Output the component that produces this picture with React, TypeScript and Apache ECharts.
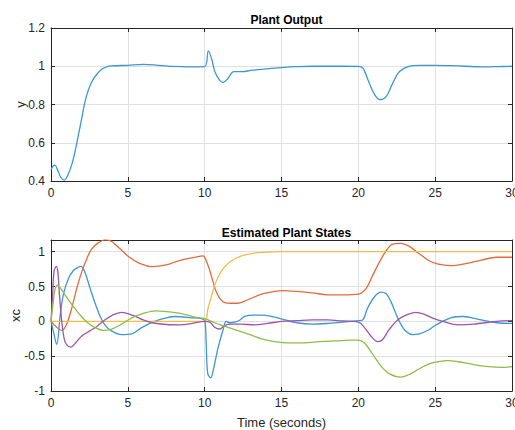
import React, { useEffect, useRef } from "react";
import * as echarts from "echarts";

// ---- Plant output ----
const yTime = [0, 0.15, 0.26, 0.43, 0.65, 0.87, 1.08, 1.34, 1.56, 1.78, 2.0, 2.21, 2.43, 2.65, 2.97, 3.3, 3.62, 3.95, 5, 6, 7, 8, 9, 10, 10.24, 10.45, 10.67, 11.0, 11.2, 11.5, 11.9, 12.5, 13, 14, 15, 16, 17, 18, 19, 20, 20.3, 20.6, 21, 21.4, 21.8, 22.2, 22.6, 23, 23.5, 24, 25, 26, 27, 28, 29, 30];
const yValues = [0.457, 0.48, 0.483, 0.457, 0.417, 0.405, 0.428, 0.483, 0.553, 0.64, 0.727, 0.814, 0.875, 0.918, 0.957, 0.984, 0.997, 1.002, 1.005, 1.01, 1.005, 0.999, 0.997, 0.998, 1.08, 1.04, 0.97, 0.925, 0.915, 0.935, 0.972, 0.972, 0.978, 0.986, 0.993, 0.998, 1.0, 1.0, 1.0, 0.999, 0.99, 0.935, 0.86, 0.825, 0.84, 0.905, 0.965, 0.99, 1.003, 1.005, 1.005, 1.003, 1.0, 0.997, 0.998, 1.0];

// ---- Estimated plant states ----
const xc1Time = [0, 0.15, 0.37, 0.6, 0.8, 1.13, 1.46, 1.8, 1.95, 2.2, 2.55, 2.87, 3.2, 3.5, 3.96, 4.6, 5.26, 5.9, 6.6, 7.3, 8, 9, 10, 10.1, 10.2, 10.4, 10.55, 10.87, 11.2, 11.4, 11.6, 11.95, 12.3, 12.6, 13.15, 13.7, 14.55, 15.1, 16, 17, 18, 19, 20, 20.28, 20.6, 21.04, 21.47, 21.8, 22.13, 22.56, 23, 23.54, 23.97, 24.6, 25, 26, 26.8, 28, 29, 30];
const xc1Values = [0, -0.14, -0.33, 0.09, 0.38, 0.61, 0.73, 0.78, 0.79, 0.71, 0.47, 0.26, 0.07, -0.05, -0.14, -0.19, -0.18, -0.09, -0.01, 0.04, 0.07, 0.055, 0.01, -0.33, -0.75, -0.81, -0.71, -0.38, -0.12, 0, -0.02, -0.01, 0.02, 0.07, 0.09, 0.09, 0.06, 0.03, -0.02, -0.04, -0.03, -0.01, 0.01, 0.02, 0.19, 0.35, 0.42, 0.4, 0.28, 0.05, -0.12, -0.19, -0.18, -0.12, -0.06, 0.05, 0.07, 0.02, -0.02, -0.03];

const xc2Time = [0, 0.3, 0.7, 1.0, 1.35, 1.67, 2.0, 2.33, 2.65, 3.1, 3.5, 3.85, 4.4, 5.04, 5.7, 6.6, 7.5, 8.3, 9.35, 9.9, 10.1, 10.33, 10.54, 10.76, 10.98, 11.3, 11.74, 12.17, 12.8, 13.7, 14.55, 15.1, 16, 17, 18, 19, 20, 20.5, 20.93, 21.37, 21.8, 22.23, 22.78, 23.3, 23.97, 24.6, 25.2, 26, 27, 28, 29, 30];
const xc2Values = [0, -0.07, -0.13, -0.05, 0.19, 0.47, 0.71, 0.9, 1.04, 1.13, 1.17, 1.16, 1.06, 0.93, 0.84, 0.785, 0.81, 0.87, 0.92, 0.94, 0.87, 0.73, 0.57, 0.42, 0.33, 0.27, 0.26, 0.26, 0.31, 0.39, 0.43, 0.44, 0.43, 0.41, 0.38, 0.38, 0.39, 0.47, 0.66, 0.85, 1.01, 1.11, 1.12, 1.08, 0.97, 0.87, 0.82, 0.8, 0.83, 0.88, 0.92, 0.92];

const xc3Time = [0, 10, 10.2, 10.43, 10.65, 10.98, 11.3, 11.74, 12.4, 13.25, 14.1, 15, 16, 18, 20, 25, 30];
const xc3Values = [0, 0, 0.17, 0.35, 0.52, 0.68, 0.78, 0.87, 0.94, 0.98, 0.995, 1.0, 1.0, 1.0, 1.0, 1.0, 1.0];

const xc4Time = [0, 0.1, 0.2, 0.35, 0.45, 0.55, 0.7, 0.85, 1.0, 1.3, 1.6, 2.0, 2.5, 3.0, 3.5, 4.0, 4.6, 5.0, 5.5, 6.0, 6.6, 7.5, 8.4, 9.2, 10, 10.33, 10.65, 10.98, 11.3, 11.74, 12.4, 13.25, 14.1, 15, 16, 17, 18, 19, 20, 20.4, 20.82, 21.26, 21.58, 22, 22.56, 23.1, 23.75, 24.3, 24.8, 25.5, 26.5, 27.5, 29, 30];
const xc4Values = [0, 0.35, 0.72, 0.79, 0.7, 0.38, 0, -0.24, -0.33, -0.37, -0.31, -0.21, -0.14, -0.07, 0.02, 0.09, 0.13, 0.11, 0.07, 0.02, -0.02, -0.045, -0.05, -0.03, 0, -0.01, -0.085, -0.11, -0.06, -0.04, -0.04, -0.05, -0.03, 0, 0.01, 0.02, 0.02, 0.005, -0.01, -0.09, -0.21, -0.29, -0.26, -0.12, 0.02, 0.09, 0.13, 0.1, 0.05, 0.0, -0.05, -0.04, 0.0, 0.01];

const xc5Time = [0, 0.15, 0.25, 0.43, 0.7, 1.0, 1.46, 1.9, 2.33, 2.87, 3.4, 3.96, 4.6, 5.26, 6.1, 6.8, 7.5, 8.5, 9.35, 10, 10.33, 10.65, 11.3, 11.95, 12.8, 13.7, 14.55, 15.5, 16.5, 17.5, 18.5, 19.5, 20, 20.4, 20.93, 21.47, 22, 22.78, 23.43, 23.97, 24.6, 25.2, 25.8, 26.5, 27.5, 28.5, 29.3, 30];
const xc5Values = [0, 0.28, 0.45, 0.52, 0.45, 0.35, 0.21, 0.09, -0.01, -0.09, -0.13, -0.11, -0.04, 0.05, 0.12, 0.15, 0.14, 0.11, 0.06, 0.04, 0.01, -0.02, -0.07, -0.12, -0.18, -0.25, -0.29, -0.31, -0.31, -0.29, -0.28, -0.27, -0.27, -0.31, -0.47, -0.64, -0.75, -0.8, -0.75, -0.68, -0.61, -0.58, -0.565, -0.58, -0.62, -0.65, -0.66, -0.65];

const titles = ["Plant Output", "Estimated Plant States"];
const xLabel = "Time (seconds)";
const yLabels = ["y", "xc"];
const stateColors = ["#3b97d5", "#e36a3b", "#f0bd47", "#9b56aa", "#8cbd48"];

const pair = (t: number[], v: number[]) => t.map((x, i) => [x, v[i]]);

const FONT = "Liberation Sans, Arial, sans-serif";
const TXT = "#262626";
const AX = "#262626";
const GRID = "#e0e0e0";

export default function App() {
  const ref = useRef<HTMLDivElement>(null);
  useEffect(() => {
    if (!ref.current) return;
    const chart = echarts.init(ref.current, null, { renderer: "svg" });
    const grids = [
      { left: 51, top: 28, width: 461, height: 153, outerBoundsMode: "none", containLabel: false },
      { left: 51, top: 240, width: 461, height: 151, outerBoundsMode: "none", containLabel: false },
    ];
    const yRanges = [
      { min: 0.4, max: 1.2, interval: 0.2 },
      { min: -1, max: 1.168, interval: 0.5 },
    ];
    const xAxes: any[] = [];
    const yAxes: any[] = [];
    grids.forEach((_, g) => {
      xAxes.push({
        type: "value",
        gridIndex: g,
        min: 0,
        max: 30,
        interval: 5,
        position: "bottom",
        name: g === 1 ? xLabel : "",
        nameLocation: "middle",
        nameGap: 25,
        nameMoveOverlap: false,
        nameTextStyle: { color: TXT, fontFamily: FONT, fontSize: 13 },
        axisLine: { show: true, onZero: false, lineStyle: { color: AX, width: 1 } },
        axisTick: { show: true, inside: true, length: 4, lineStyle: { color: AX } },
        axisLabel: { color: TXT, fontFamily: FONT, fontSize: 12, margin: 6 },
        splitLine: { show: true, lineStyle: { color: GRID, width: 1 } },
      });
      xAxes.push({
        type: "value",
        gridIndex: g,
        min: 0,
        max: 30,
        interval: 5,
        position: "top",
        axisLine: { show: true, onZero: false, lineStyle: { color: AX, width: 1 } },
        axisTick: { show: true, inside: true, length: 4, lineStyle: { color: AX } },
        axisLabel: { show: false },
        splitLine: { show: false },
      });
      yAxes.push({
        type: "value",
        gridIndex: g,
        ...yRanges[g],
        position: "left",
        name: yLabels[g],
        nameLocation: "middle",
        nameGap: g === 0 ? 24 : 29,
        nameMoveOverlap: false,
        nameRotate: 90,
        nameTextStyle: { color: TXT, fontFamily: FONT, fontSize: 13 },
        axisLine: { show: true, onZero: false, lineStyle: { color: AX, width: 1 } },
        axisTick: { show: true, inside: true, length: 4, lineStyle: { color: AX } },
        axisLabel: {
          color: TXT,
          fontFamily: FONT,
          fontSize: 12,
          margin: 6,
          showMaxLabel: g === 0,
          formatter: (v: number) => String(Math.round(v * 10) / 10),
        },
        splitLine: { show: true, lineStyle: { color: GRID, width: 1 } },
      });
      yAxes.push({
        type: "value",
        gridIndex: g,
        ...yRanges[g],
        position: "right",
        axisLine: { show: true, onZero: false, lineStyle: { color: AX, width: 1 } },
        axisTick: { show: true, inside: true, length: 4, lineStyle: { color: AX } },
        axisLabel: { show: false },
        splitLine: { show: false },
      });
    });

    const stateData = [
      pair(xc1Time, xc1Values),
      pair(xc2Time, xc2Values),
      pair(xc3Time, xc3Values),
      pair(xc4Time, xc4Values),
      pair(xc5Time, xc5Values),
    ];

    const lineBase = {
      type: "line",
      showSymbol: false,
      smooth: 0.35,
      clip: true,
      silent: true,
    };

    const series: any[] = [
      {
        ...lineBase,
        name: "y",
        xAxisIndex: 0,
        yAxisIndex: 0,
        data: pair(yTime, yValues),
        lineStyle: { color: stateColors[0], width: 1.3 },
      },
      ...stateData.map((d, i) => ({
        ...lineBase,
        name: "xc" + (i + 1),
        xAxisIndex: 2,
        yAxisIndex: 2,
        data: d,
        lineStyle: { color: stateColors[i], width: 1.3 },
      })),
    ];

    chart.setOption({
      animation: false,
      backgroundColor: "#ffffff",
      title: [
        {
          text: titles[0],
          left: 281.5,
          top: 9,
          textAlign: "center",
          textStyle: { fontFamily: FONT, fontSize: 12, fontWeight: "bold", color: "#000" },
        },
        {
          text: titles[1],
          left: 281.5,
          top: 222,
          textAlign: "center",
          textStyle: { fontFamily: FONT, fontSize: 12, fontWeight: "bold", color: "#000" },
        },
      ],
      grid: grids,
      xAxis: xAxes,
      yAxis: yAxes,
      series,
    });
    return () => chart.dispose();
  }, []);
  return (
    <div
      ref={ref}
      style={{ position: "absolute", left: 0, top: 0, width: 515, height: 430 }}
    />
  );
}
